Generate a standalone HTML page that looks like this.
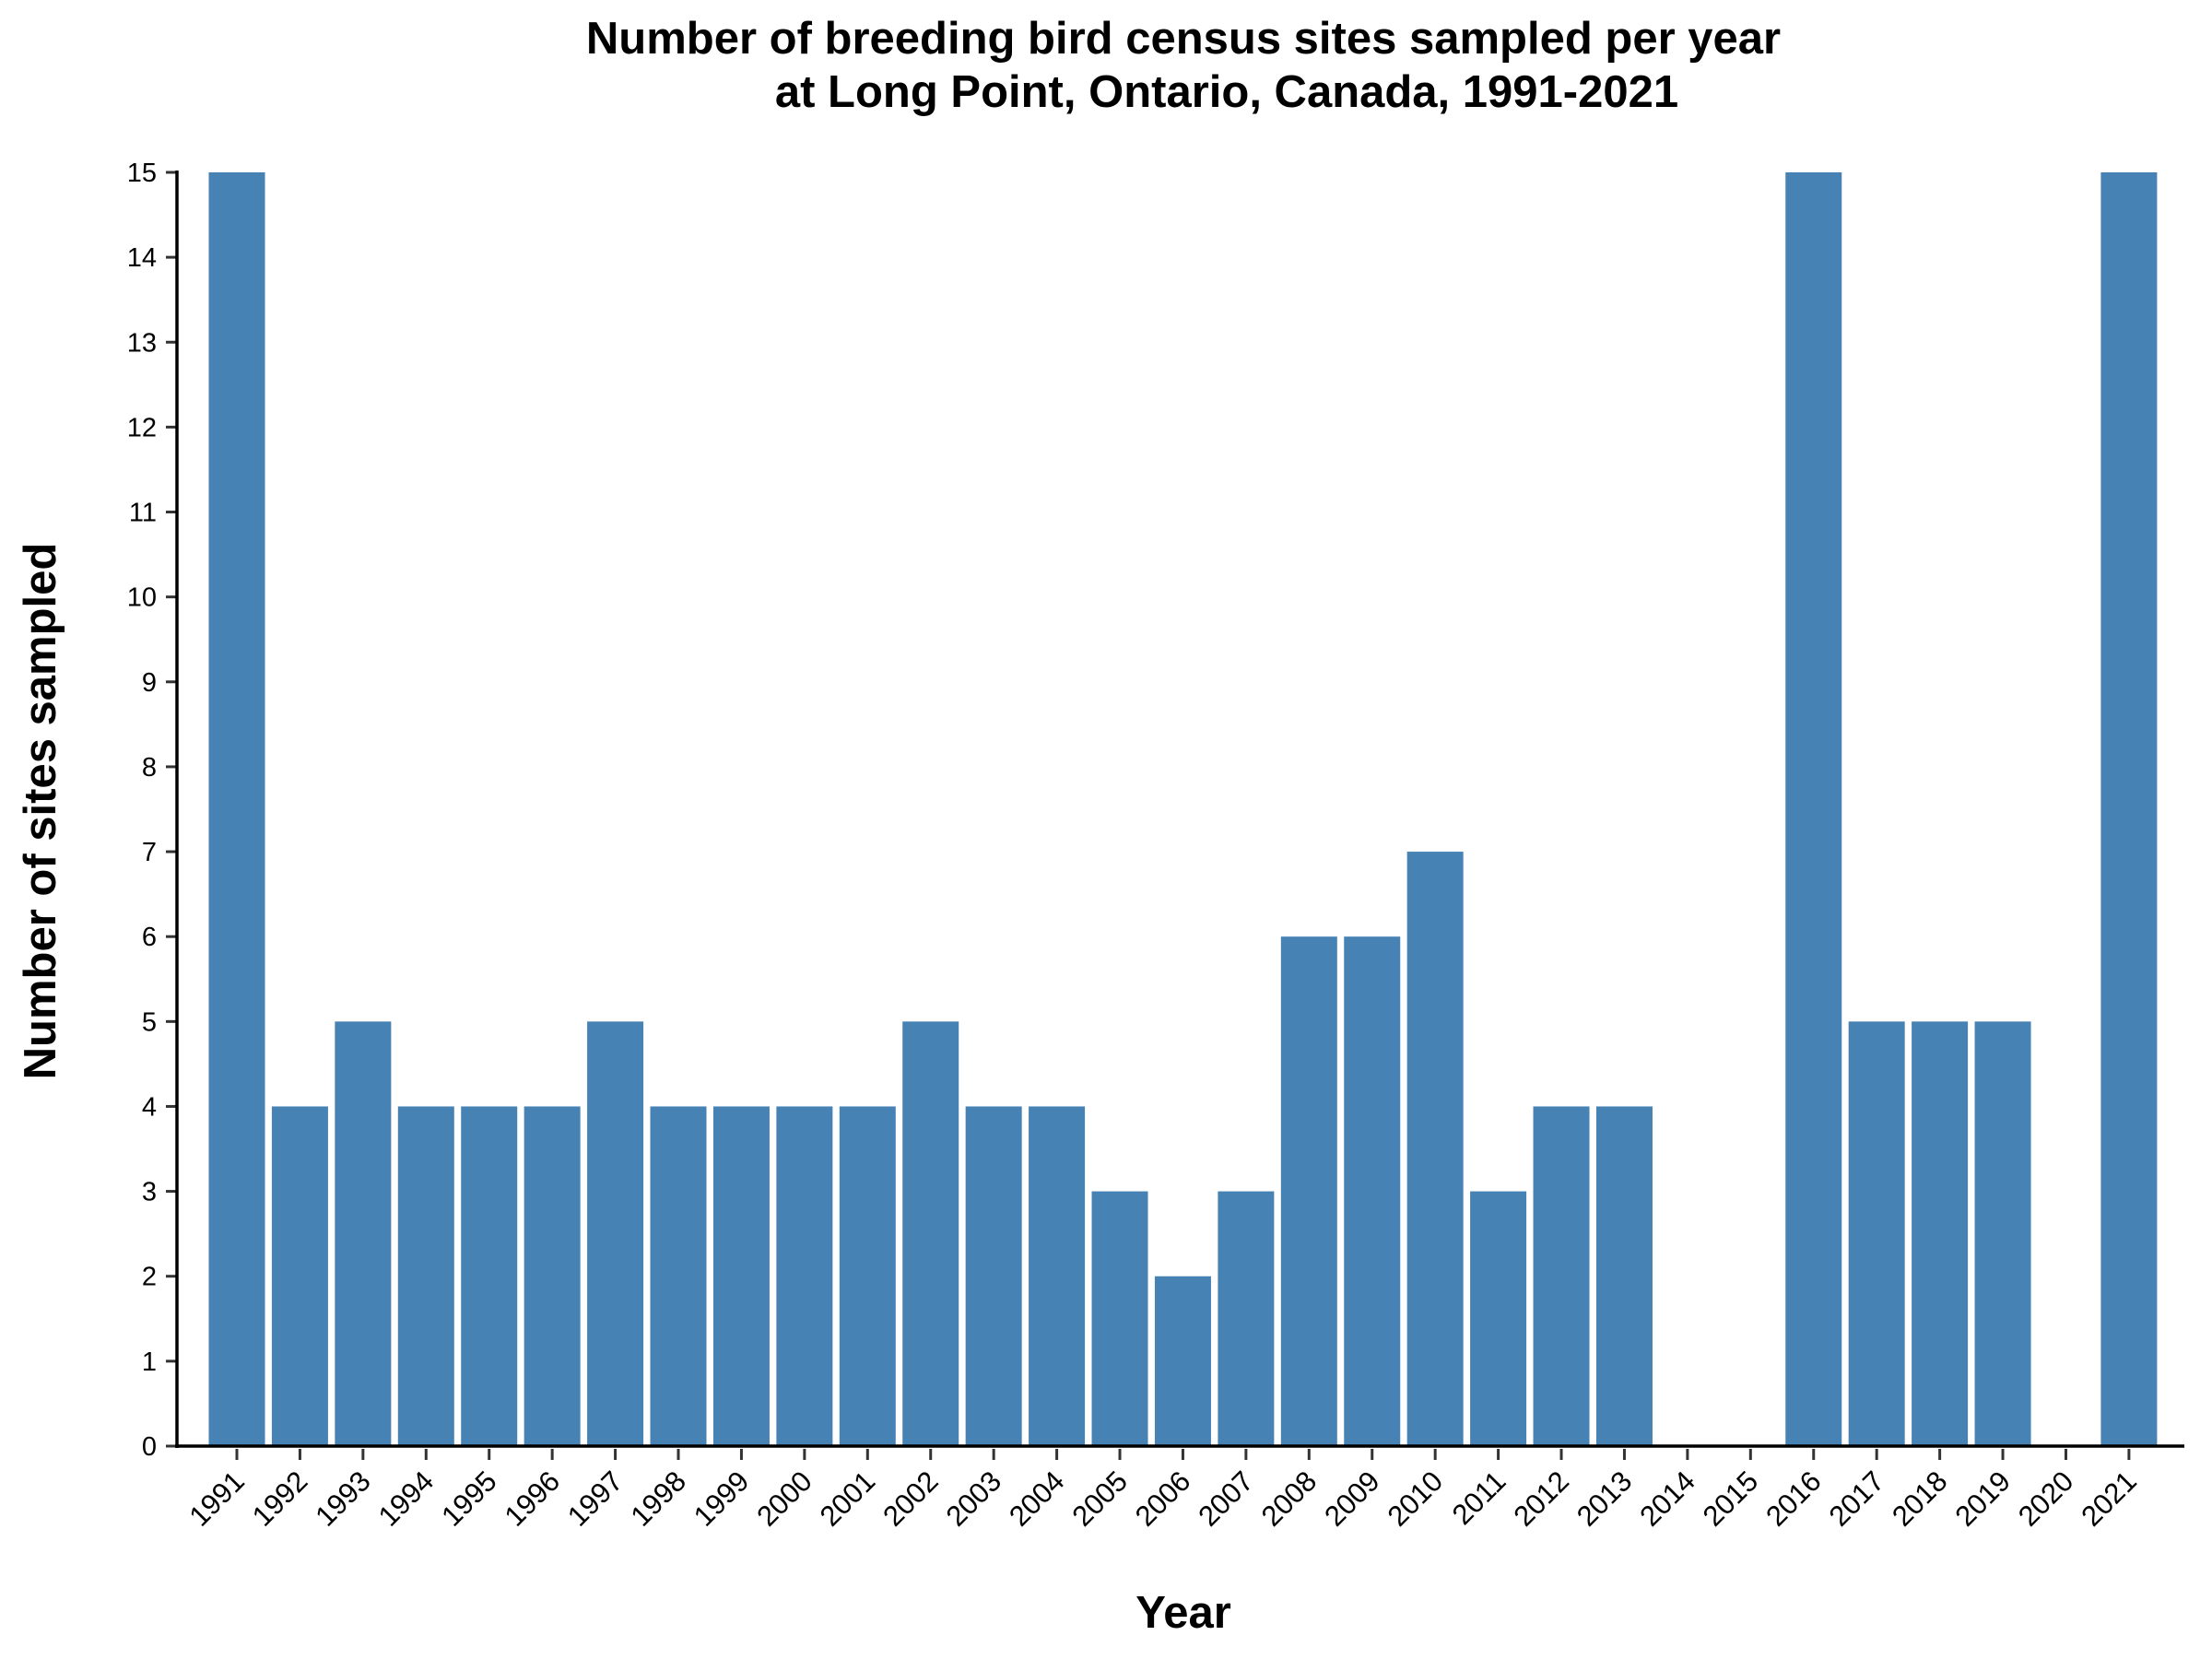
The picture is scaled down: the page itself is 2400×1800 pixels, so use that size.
<!DOCTYPE html>
<html><head><meta charset="utf-8"><style>
html,body{margin:0;padding:0;background:#fff;}
svg{display:block;font-family:"Liberation Sans",Arial,sans-serif;}
</style></head><body>
<svg id="chart" width="2400" height="1800" viewBox="0 0 2400 1800">
<text x="1284" y="58" font-size="49" font-weight="bold" text-anchor="middle">Number of breeding bird census sites sampled per year</text>
<text x="1331" y="116" font-size="49" font-weight="bold" text-anchor="middle">at Long Point, Ontario, Canada, 1991-2021</text>
<text transform="translate(60,880) rotate(-90)" font-size="49" font-weight="bold" text-anchor="middle">Number of sites sampled</text>
<text x="1284" y="1766" font-size="49" font-weight="bold" text-anchor="middle">Year</text>
<g id="bars"></g><g id="xt"></g><g id="yt"></g>
<line x1="192" y1="185" x2="192" y2="1571" stroke="#000" stroke-width="3.5"/>
<line x1="190" y1="1569" x2="2370" y2="1569" stroke="#000" stroke-width="3.5"/>
</svg>
<script>
const years=["1991","1992","1993","1994","1995","1996","1997","1998","1999","2000","2001","2002","2003","2004","2005","2006","2007","2008","2009","2010","2011","2012","2013","2014","2015","2016","2017","2018","2019","2020","2021"];
const sites=[15,4,5,4,4,4,5,4,4,4,4,5,4,4,3,2,3,6,6,7,3,4,4,0,0,15,5,5,5,0,15];
const yTicks=[0,1,2,3,4,5,6,7,8,9,10,11,12,13,14,15];
const NS="http://www.w3.org/2000/svg";
const x0=257,step=68.43,bw=61,yBase=1569,yTop=187,yMax=15;
const xs=i=>x0+i*step;
const ys=v=>yBase-(v/yMax)*(yBase-yTop);
const bars=document.getElementById('bars'),xt=document.getElementById('xt'),yt=document.getElementById('yt');
function mk(t,a){const e=document.createElementNS(NS,t);for(const k in a)e.setAttribute(k,a[k]);return e;}
years.forEach((y,i)=>{
  const v=sites[i];
  const r=mk('rect',{x:xs(i)-bw/2,y:ys(v),width:bw,height:yBase-ys(v),fill:'#4682b4'});
  
  
  bars.appendChild(r);
  const tk=mk('line',{x1:xs(i),x2:xs(i),y1:yBase+3,y2:yBase+15,stroke:'#333','stroke-width':3});
  
  
  xt.appendChild(tk);
  const t=mk('text',{'font-size':31,'text-anchor':'end',transform:`translate(${xs(i)+10},${yBase+40}) rotate(-45)`});
  t.textContent=y;
  
  
  xt.appendChild(t);
});
yTicks.forEach(v=>{
  const tk=mk('line',{x1:180,x2:192,y1:ys(v),y2:ys(v),stroke:'#333','stroke-width':3});
  
  
  yt.appendChild(tk);
  const t=mk('text',{x:170,y:ys(v)+10,'font-size':29,'text-anchor':'end'});
  t.textContent=v;
  
  
  yt.appendChild(t);
});
</script>
</body></html>
